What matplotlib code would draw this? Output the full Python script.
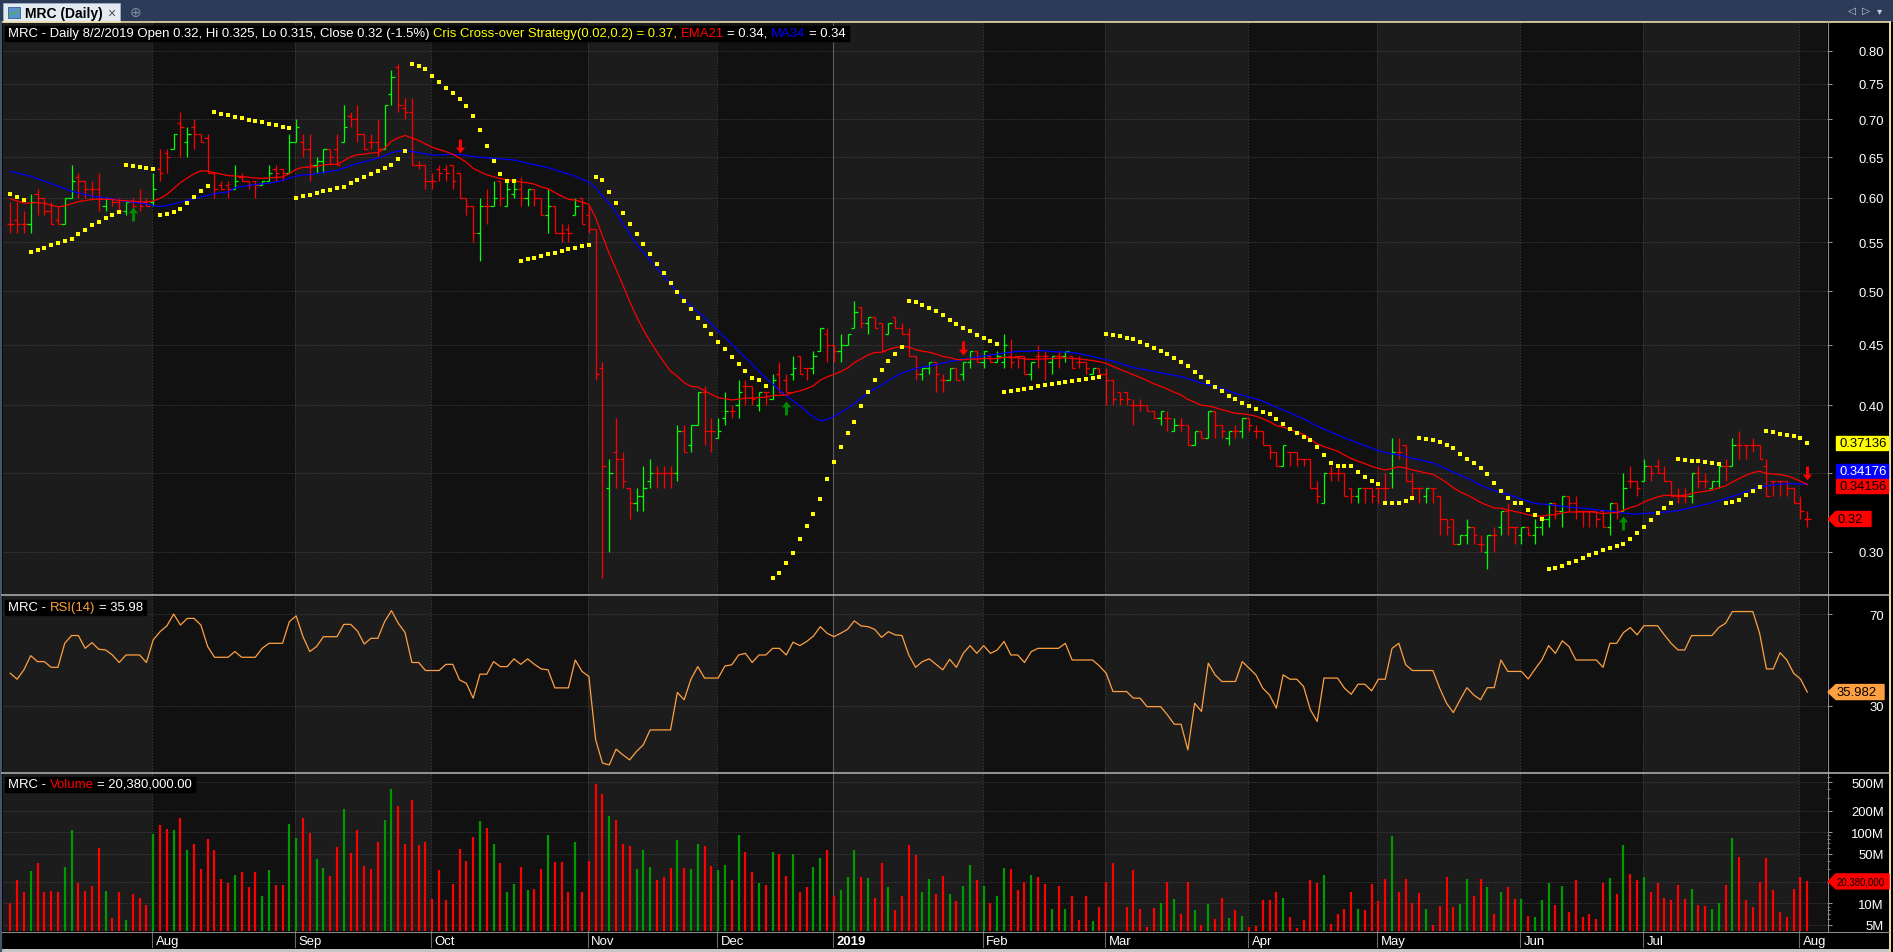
import numpy as np
import matplotlib
matplotlib.use("Agg")
from matplotlib import pyplot as plt
from matplotlib.collections import LineCollection
from matplotlib.patches import Rectangle, Polygon
from matplotlib.path import Path
from matplotlib import transforms
from matplotlib.ticker import FixedLocator, FixedFormatter, NullLocator, NullFormatter, LogLocator

plt.rcParams['font.family'] = ['Liberation Sans', 'DejaVu Sans']

W, H = 1893, 953

# daily bars MRC, Jul 2018 - 2 Aug 2019
opens = [
    .57, .575, .57, .57, .605, .60, .585, .575, .57, .60,
    .625, .62, .61, .61, .59, .60, .595, .585, .595, .595,
    .595, .595, .635, .655, .66, .695, .67, .69, .68, .675,
    .63, .615, .615, .61, .625, .62, .62, .615, .62, .635,
    .635, .63, .67, .67, .66, .64, .645, .66, .66, .67,
    .705, .70, .68, .67, .67, .66, .735, .775, .715, .71,
    .64, .64, .62, .635, .635, .64, .63, .60, .59, .56,
    .59, .59, .62, .59, .605, .61, .60, .61, .60, .58,
    .59, .56, .565, .58, .60, .58, .565, .43, .34, .365,
    .36, .34, .33, .335, .345, .35, .35, .35, .35, .38,
    .37, .385, .41, .38, .375, .39, .395, .40, .415, .415,
    .40, .41, .405, .425, .42, .425, .44, .43, .43, .445,
    .46, .45, .445, .45, .465, .485, .47, .475, .47, .46,
    .475, .465, .46, .44, .425, .43, .435, .42, .42, .43,
    .425, .435, .445, .435, .44, .435, .435, .44, .44, .44,
    .425, .44, .44, .435, .44, .44, .44, .435, .435, .425,
    .43, .425, .42, .41, .41, .40, .40, .40, .395, .39,
    .39, .38, .385, .385, .37, .38, .375, .395, .385, .375,
    .38, .38, .39, .38, .38, .37, .365, .355, .365, .365,
    .36, .36, .34, .33, .35, .35, .35, .34, .335, .34,
    .34, .34, .34, .35, .365, .37, .345, .34, .335, .34,
    .335, .32, .32, .305, .31, .315, .305, .30, .31, .315,
    .325, .315, .31, .315, .31, .315, .32, .33, .325, .335,
    .33, .325, .325, .325, .325, .315, .33, .325, .345, .345,
    .345, .355, .355, .35, .345, .335, .335, .335, .35, .345,
    .34, .345, .355, .355, .37, .37, .37, .37, .355, .345,
    .345, .345, .34, .33, .32]
highs = [
    .595, .595, .585, .605, .61, .60, .595, .59, .60, .64,
    .63, .62, .62, .63, .60, .60, .60, .595, .60, .61,
    .60, .63, .66, .66, .68, .71, .69, .70, .68, .68,
    .63, .62, .62, .64, .63, .62, .62, .62, .64, .64,
    .635, .68, .70, .68, .68, .65, .66, .66, .68, .72,
    .71, .72, .68, .68, .70, .72, .77, .78, .73, .73,
    .645, .64, .63, .64, .64, .64, .63, .60, .59, .60,
    .61, .62, .62, .62, .62, .625, .61, .61, .60, .61,
    .59, .57, .57, .60, .60, .59, .565, .435, .36, .39,
    .365, .34, .34, .355, .36, .355, .355, .355, .385, .385,
    .385, .41, .415, .39, .39, .41, .40, .42, .42, .415,
    .41, .41, .425, .435, .425, .44, .44, .43, .445, .465,
    .465, .45, .46, .46, .49, .485, .475, .475, .47, .47,
    .475, .47, .465, .44, .43, .435, .435, .425, .43, .43,
    .435, .445, .445, .445, .44, .445, .46, .455, .44, .44,
    .435, .45, .445, .44, .445, .445, .44, .44, .435, .43,
    .43, .43, .42, .41, .41, .405, .405, .40, .395, .395,
    .395, .39, .39, .385, .38, .38, .395, .395, .385, .38,
    .385, .39, .39, .385, .38, .37, .365, .37, .365, .365,
    .36, .36, .345, .35, .355, .355, .35, .34, .34, .34,
    .34, .34, .35, .375, .375, .37, .35, .34, .34, .34,
    .335, .32, .32, .31, .32, .315, .31, .31, .315, .325,
    .33, .315, .315, .315, .32, .32, .33, .33, .335, .335,
    .335, .325, .325, .325, .325, .33, .33, .35, .355, .345,
    .36, .355, .36, .355, .345, .34, .34, .35, .355, .35,
    .345, .355, .36, .375, .38, .37, .375, .37, .36, .345,
    .345, .345, .34, .335, .325]
lows = [
    .56, .56, .56, .56, .58, .58, .57, .57, .57, .60,
    .60, .60, .60, .585, .585, .59, .585, .58, .585, .585,
    .59, .59, .62, .63, .66, .65, .65, .66, .67, .63,
    .60, .61, .60, .61, .62, .61, .60, .615, .62, .62,
    .62, .63, .67, .65, .62, .63, .63, .64, .64, .67,
    .69, .67, .66, .66, .65, .66, .72, .71, .70, .64,
    .635, .61, .61, .62, .62, .61, .60, .58, .55, .53,
    .57, .59, .59, .59, .60, .59, .59, .59, .58, .56,
    .56, .55, .55, .58, .57, .56, .42, .285, .30, .34,
    .34, .32, .325, .325, .34, .34, .34, .34, .345, .365,
    .365, .385, .37, .365, .375, .385, .39, .39, .40, .40,
    .395, .40, .405, .41, .41, .42, .425, .42, .425, .445,
    .435, .435, .435, .45, .465, .465, .46, .465, .445, .46,
    .465, .46, .44, .42, .42, .425, .41, .41, .42, .42,
    .42, .43, .435, .43, .435, .435, .43, .43, .43, .425,
    .42, .43, .42, .425, .43, .435, .43, .43, .425, .425,
    .425, .40, .40, .40, .40, .385, .395, .395, .39, .385,
    .38, .38, .38, .37, .37, .375, .375, .375, .375, .37,
    .375, .375, .38, .375, .37, .36, .355, .355, .355, .355,
    .355, .34, .33, .33, .345, .345, .335, .33, .33, .33,
    .33, .33, .33, .34, .36, .345, .335, .33, .33, .33,
    .31, .31, .305, .305, .305, .305, .30, .29, .30, .31,
    .31, .305, .305, .31, .305, .31, .315, .32, .315, .325,
    .32, .315, .315, .315, .315, .31, .32, .325, .34, .335,
    .345, .345, .35, .345, .335, .33, .33, .33, .34, .34,
    .34, .34, .345, .355, .36, .36, .365, .36, .335, .335,
    .335, .335, .33, .32, .315]
closes = [
    .57, .57, .57, .595, .60, .585, .57, .57, .60, .62,
    .62, .61, .61, .60, .60, .595, .585, .595, .59, .59,
    .59, .61, .63, .65, .68, .69, .68, .68, .67, .63,
    .61, .61, .61, .62, .62, .615, .615, .62, .63, .63,
    .63, .67, .69, .66, .64, .645, .66, .65, .64, .69,
    .70, .68, .66, .67, .66, .72, .76, .72, .71, .64,
    .64, .62, .62, .63, .63, .62, .60, .59, .56, .59,
    .59, .60, .60, .61, .61, .60, .61, .60, .58, .59,
    .56, .56, .56, .59, .57, .565, .425, .355, .35, .36,
    .345, .33, .335, .34, .35, .35, .35, .35, .38, .365,
    .385, .41, .38, .38, .38, .395, .395, .41, .415, .405,
    .41, .41, .42, .41, .41, .43, .425, .43, .44, .465,
    .45, .445, .45, .46, .48, .47, .475, .465, .445, .47,
    .465, .46, .44, .425, .43, .435, .425, .42, .43, .42,
    .435, .445, .435, .445, .435, .44, .45, .435, .44, .425,
    .435, .44, .44, .44, .44, .445, .43, .435, .43, .43,
    .425, .42, .405, .405, .405, .40, .40, .395, .39, .395,
    .39, .385, .385, .37, .38, .375, .395, .385, .38, .38,
    .38, .39, .385, .38, .37, .365, .355, .37, .365, .36,
    .36, .34, .335, .35, .35, .35, .335, .335, .34, .34,
    .335, .34, .34, .365, .365, .345, .34, .34, .34, .34,
    .32, .315, .305, .31, .315, .31, .305, .31, .31, .325,
    .315, .315, .315, .31, .315, .32, .33, .325, .335, .33,
    .325, .325, .325, .32, .315, .33, .325, .34, .345, .34,
    .355, .35, .35, .345, .335, .335, .335, .35, .345, .345,
    .345, .355, .355, .37, .37, .37, .37, .36, .335, .345,
    .345, .34, .33, .325, .32]
volume_m = [
    10.0, 21, 14.5, 28.6, 37.4, 14.5, 15, 14.5, 33, 108,
    19.5, 15, 17.3, 61, 15, 6.3, 14.5, 5.8, 13.4, 12.1,
    9.4, 95, 127, 112, 108, 159, 57, 68, 30, 81,
    57, 22, 19.5, 25.4, 27.4, 16.8, 28, 12.7, 29, 18.4,
    18, 131, 84, 159, 98, 41.5, 31, 24.6, 62.5, 213,
    51, 108, 34, 30, 74, 150, 405, 230, 69, 284,
    67, 74, 11.7, 29.3, 11, 18.6, 59, 40, 86, 145,
    116, 69, 37.4, 14.7, 19, 32, 15.2, 15.7, 30, 90,
    38.6, 38.6, 14.3, 74, 14.3, 40, 476, 345, 170, 150,
    69, 65, 30, 56, 33, 21.6, 23.8, 31, 78, 31,
    30, 69, 65, 34, 29.6, 35, 21, 92, 53, 28,
    19.6, 18.4, 53, 50, 24.6, 50, 14.7, 16.8, 32, 44,
    56.5, 12.9, 15.2, 23.8, 55.5, 23.6, 23, 12.1, 37.4, 16.8,
    8.0, 12.7, 67, 48.4, 14.3, 22.3, 13.4, 24.6, 13.4, 10.7,
    17.3, 35, 21, 17.8, 10, 12.9, 31, 30, 15.2, 20.3,
    25.4, 23.8, 19, 8.3, 17.8, 8.3, 12.9, 5.8, 12.9, 5.6,
    8.8, 20, 36.5, 4.1, 8.8, 29, 8.3, 4.6, 8.5, 10,
    20.3, 11.4, 7.0, 20.3, 8.0, 4.9, 9.7, 6.0, 12.1, 6.2,
    8.0, 6.6, 4.6, 4.8, 11, 11, 14.3, 12.1, 6.4, 4.5,
    5.8, 21, 19.6, 25.4, 5.1, 7.2, 8.3, 14.3, 8.3, 8.0,
    19, 10.7, 22.3, 89, 14.7, 22.3, 10.3, 13.8, 8.3, 4.9,
    9.2, 23.8, 8.8, 9.7, 22.3, 12.9, 22.3, 16.8, 7.2, 14.7,
    16.8, 11.4, 11.7, 6.6, 6.4, 11, 19.6, 9.4, 17.8, 7.5,
    21.6, 6.4, 7.2, 6.0, 19.6, 23, 13.4, 67, 26, 21,
    23.8, 14.7, 19.6, 12.1, 11, 18.4, 11.4, 16.2, 9.4, 9.1,
    8.3, 10.3, 18.4, 84, 45.5, 11, 8.8, 20.3, 44, 15.2,
    7.5, 6.4, 15.7, 23.8, 20.38]
# RSI(14) line as drawn in the middle pane
rsi_values = [
    44.2, 41.6, 45.7, 51.9, 49.3, 49.3, 46.8, 46.8, 57.3, 60.7,
    60.7, 55.1, 57.6, 54.7, 54.4, 52.2, 48.9, 52.2, 52.2, 52.2,
    48.9, 58.8, 62.4, 64.9, 70.1, 65.3, 68.2, 68.2, 65.3, 55.9,
    51.2, 51.2, 51.2, 53.7, 51.2, 51.2, 51.2, 55.1, 57.3, 57.3,
    57.3, 66.8, 69.3, 60.2, 53.7, 55.9, 60.2, 60.2, 60.2, 65.6,
    65.6, 62.7, 57.0, 59.5, 59.5, 66.8, 71.6, 66.1, 62.0, 48.9,
    48.9, 45.4, 45.4, 45.4, 48.1, 48.1, 41.3, 39.8, 33.3, 43.8,
    43.8, 49.3, 47.1, 47.1, 50.5, 48.1, 50.5, 48.1, 46.1, 45.7,
    37.8, 37.8, 37.8, 50.0, 45.0, 42.8, 15.1, 4.9, 4.1, 11.0,
    8.5, 6.3, 10.0, 12.9, 19.4, 19.4, 19.4, 19.4, 35.8, 32.6,
    41.6, 47.1, 42.1, 42.1, 42.1, 47.4, 47.9, 52.2, 52.9, 48.9,
    52.2, 52.2, 55.1, 55.1, 52.2, 57.8, 56.3, 58.1, 60.5, 64.6,
    61.7, 60.2, 61.7, 63.4, 67.1, 64.9, 64.6, 63.4, 59.9, 62.4,
    61.0, 60.7, 52.2, 46.8, 49.3, 50.5, 48.1, 45.7, 50.3, 46.8,
    52.9, 56.3, 52.9, 56.3, 52.9, 54.4, 58.1, 52.2, 52.2, 48.9,
    53.7, 55.1, 55.1, 55.1, 55.1, 57.3, 50.0, 50.0, 50.0, 50.0,
    47.4, 44.2, 36.2, 36.2, 36.2, 33.3, 33.3, 29.6, 29.6, 29.6,
    26.0, 21.9, 21.9, 10.7, 31.1, 27.5, 48.6, 43.5, 40.6, 40.6,
    40.6, 49.3, 46.4, 43.5, 37.7, 34.7, 28.9, 43.5, 41.6, 41.6,
    38.4, 28.2, 23.1, 42.1, 42.1, 42.1, 37.7, 35.0, 39.4, 39.4,
    36.5, 41.6, 41.6, 55.1, 57.3, 47.9, 45.4, 45.4, 45.4, 45.4,
    37.7, 31.1, 27.0, 32.6, 37.9, 34.7, 32.6, 37.9, 37.9, 50.0,
    45.0, 45.0, 45.0, 41.7, 46.0, 50.0, 56.3, 52.9, 58.4, 55.9,
    50.0, 50.0, 50.0, 50.0, 46.8, 57.3, 57.3, 62.0, 64.2, 61.0,
    65.0, 65.0, 65.0, 61.0, 57.3, 54.4, 54.4, 60.7, 60.7, 60.7,
    60.7, 64.2, 66.1, 71.2, 71.2, 71.2, 71.2, 61.7, 46.1, 46.1,
    53.2, 50.0, 44.2, 41.7, 35.982]

# MA34 values at the left edge (its window starts before the first visible bar)
ma34_head = [.632, .630, .628, .626, .623, .620, .617, .614, .611, .608,
             .606, .604, .602, .601, .600, .599, .597, .596, .595, .594,
             .593, .591, .590, .591, .593, .595, .597, .599, .601, .603,
             .605, .606, .607]
ema21_start = 0.599
sar_start = (0.605, 0.54, 0.06)        # short trend at first bar: sar, extreme, acc

month_starts = [21, 42, 62, 85, 104, 121, 143, 161, 182, 201, 222, 240, 263]
month_labels = ['Aug', 'Sep', 'Oct', 'Nov', 'Dec', '2019', 'Feb', 'Mar', 'Apr', 'May', 'Jun', 'Jul', 'Aug']
buy_bars = [18, 114, 237]
sell_bars = [66, 140, 264]

# values shown in the right hand labels
sar_label = 0.37136
ma34_label = 0.34176
ema21_label = 0.34156
vol_label = 20380000

price_ticks = [0.25, 0.30, 0.35, 0.40, 0.45, 0.50, 0.55, 0.60, 0.65, 0.70, 0.75, 0.80]
price_tick_labels = ['', '0.30', '', '0.40', '0.45', '0.50', '0.55', '0.60', '0.65', '0.70', '0.75', '0.80']
vol_ticks = [5e6, 1e7, 2e7, 5e7, 1e8, 2e8, 5e8]
vol_tick_labels = ['5M', '10M', '', '50M', '100M', '200M', '500M']


O = np.array(opens); Hh = np.array(highs); L = np.array(lows); C = np.array(closes)
V = np.array(volume_m) * 1e6
R = np.array(rsi_values)
n = len(C)
x = np.arange(n)
up = C > O


def ema(c, span, start):
    a = 2.0 / (span + 1)
    out = np.zeros(len(c))
    out[0] = start
    for i in range(1, len(c)):
        out[i] = out[i-1] + a * (c[i] - out[i-1])
    return out


def sma(c, per, head):
    out = np.zeros(len(c))
    out[:len(head)] = head
    for i in range(len(head), len(c)):
        out[i] = c[i-per+1:i+1].mean()
    return out


def sar(h, l, step, amax, start):
    s, ep, af = start
    longpos = False
    out = np.zeros(len(h))
    for i in range(len(h)):
        if i > 0:
            s = s + af * (ep - s)
            if longpos:
                s = min(s, l[i-1], l[max(i-2, 0)])
            else:
                s = max(s, h[i-1], h[max(i-2, 0)])
        if longpos and l[i] < s:
            longpos = False; s = ep; ep = l[i]; af = step
        elif (not longpos) and h[i] > s:
            longpos = True; s = ep; ep = h[i]; af = step
        elif longpos and h[i] > ep:
            ep = h[i]; af = min(af + step, amax)
        elif (not longpos) and l[i] < ep:
            ep = l[i]; af = min(af + step, amax)
        out[i] = s
    return out


ema21 = ema(C, 21, ema21_start)
ma34 = sma(C, 34, ma34_head)
sar_v = sar(Hh, L, 0.02, 0.2, sar_start)

fig = plt.figure(figsize=(W / 100, H / 100), dpi=100, facecolor='black')


def px_axes(x0, y0, x1, y1, **kw):
    return fig.add_axes([x0 / W, 1 - y1 / H, (x1 - x0) / W, (y1 - y0) / H], **kw)


ax_bg = px_axes(0, 0, W, H, zorder=-5)
ax_bg.set_xlim(0, W); ax_bg.set_ylim(H, 0); ax_bg.axis('off')

ax_p = px_axes(3, 24, 1827, 595)
ax_r = px_axes(3, 597, 1827, 773)
ax_v = px_axes(3, 775, 1827, 932)

ax_top = px_axes(0, 0, W, H, zorder=10)
ax_top.set_xlim(0, W); ax_top.set_ylim(H, 0); ax_top.axis('off')

LIGHT = '#1c1c1c'
DARK = '#111111'
GRID = '#4a4a4a'
FS = 9.45

bounds = [-3] + month_starts + [n + 3]
for ax in (ax_p, ax_r, ax_v):
    ax.set_facecolor(DARK)
    for k in range(len(bounds) - 1):
        if k % 2 == 0:
            ax.axvspan(bounds[k] - 0.15, bounds[k + 1] - 0.15, color=LIGHT, lw=0, zorder=0.1)
    for m, lab in zip(month_starts, month_labels):
        if lab == '2019':
            ax.axvline(m - 0.15, color='#5e5e5e', lw=0.8, zorder=0.6)
        else:
            ax.axvline(m - 0.15, color=GRID, lw=0.72, ls=(0, (1, 2)), zorder=0.6)
    ax.set_xlim(-1.07, 266.9)
    for sp in ax.spines.values():
        sp.set_visible(False)
    ax.set_axisbelow(True)
    ax.yaxis.grid(True, color=GRID, lw=0.72, ls=(0, (1, 2)))
    ax.yaxis.tick_right()
    ax.tick_params(axis='y', which='major', direction='out', length=3.6, width=0.7,
                   color='#9a9a9a', labelcolor='white', labelsize=FS, pad=37.4)
    ax.tick_params(axis='x', which='both', bottom=False, labelbottom=False)

# ---- price pane ----
ax_p.set_yscale('log')
ax_p.set_ylim(0.2763, 0.845)
ax_p.yaxis.set_major_locator(FixedLocator(price_ticks))
ax_p.yaxis.set_major_formatter(FixedFormatter(price_tick_labels))
ax_p.yaxis.set_minor_locator(NullLocator())
ax_p.yaxis.set_minor_formatter(NullFormatter())

segs, cols = [], []
for i in range(n):
    col = '#00ff00' if up[i] else '#ff0000'
    segs += [[(i, L[i]), (i, Hh[i])], [(i - 0.48, O[i]), (i, O[i])], [(i, C[i]), (i + 0.48, C[i])]]
    cols += [col] * 3
ax_p.add_collection(LineCollection(segs, colors=cols, linewidths=0.9, zorder=3))
ax_p.plot(x, ma34, color='#0000ff', lw=0.9, zorder=4)
ax_p.plot(x, ema21, color='#ff0000', lw=0.9, zorder=4)
ax_p.scatter(x, sar_v, marker='s', s=6, color='#ffff00', linewidths=0, zorder=5)

arrow = Path([(0, 0.5), (0.33, 0.08), (0.11, 0.08), (0.11, -0.5), (-0.11, -0.5),
              (-0.11, 0.08), (-0.33, 0.08), (0, 0.5)], closed=True)
arrow_dn = Path(arrow.vertices * [1, -1], closed=True)
off_up = transforms.ScaledTranslation(0, -13 / 100, fig.dpi_scale_trans)
off_dn = transforms.ScaledTranslation(0, 12 / 100, fig.dpi_scale_trans)
ax_p.plot(np.array(buy_bars), ema21[buy_bars], ls='none', marker=arrow, ms=10,
          mfc='#008a00', mec='none', transform=ax_p.transData + off_up, zorder=6)
ax_p.plot(np.array(sell_bars), ema21[sell_bars], ls='none', marker=arrow_dn, ms=10,
          mfc='#ff0000', mec='none', transform=ax_p.transData + off_dn, zorder=6)

# ---- RSI pane ----
ax_r.set_ylim(1, 78)
ax_r.yaxis.set_major_locator(FixedLocator([30, 70]))
ax_r.yaxis.set_major_formatter(FixedFormatter(['30', '70']))
ax_r.plot(np.arange(len(R)), R, color='#ffa040', lw=0.9, zorder=3)

# ---- volume pane ----
ax_v.set_yscale('log')
ax_v.set_ylim(4.1e6, 6.57e8)
ax_v.yaxis.set_major_locator(FixedLocator(vol_ticks))
ax_v.yaxis.set_major_formatter(FixedFormatter(vol_tick_labels))
ax_v.yaxis.set_minor_locator(LogLocator(base=10, subs=(3, 4, 6, 7, 8, 9)))
ax_v.yaxis.set_minor_formatter(NullFormatter())
ax_v.tick_params(axis='y', which='minor', direction='out', length=2, width=0.6, color='#9a9a9a')
vcols = np.where(up, '#009a00', '#ff0000')
ax_v.vlines(x, 1e6, V, colors=vcols, lw=1.6, zorder=3)

for ax in (ax_p, ax_r, ax_v):
    for t in ax.get_yticklabels():
        t.set_horizontalalignment('right')

# month labels under the volume pane
for m, lab in zip(month_starts, month_labels):
    ax_v.annotate(lab, xy=(m - 0.15, 0), xycoords=('data', 'axes fraction'),
                  xytext=(2.5, -7.5), textcoords='offset points', ha='left', va='center',
                  color='white', fontsize=FS, fontweight='bold' if lab == '2019' else 'normal',
                  annotation_clip=False)
    ax_v.plot([m - 0.15, m - 0.15], [0, -0.1], transform=transforms.blended_transform_factory(
        ax_v.transData, ax_v.transAxes), color='#6a6a6a', lw=0.8, clip_on=False)

# ---- window frame ----
ax_bg.add_patch(Rectangle((0, 0), W, 22.5, color='#2b3b58', lw=0))
ax_bg.add_patch(Rectangle((3, 4), 117, 19, facecolor='#e4eaf2', edgecolor='#9fb0c8', lw=0.6))
ax_bg.add_patch(Rectangle((8, 8), 12, 11, facecolor='#5d8fcc', edgecolor='#2f5f9a', lw=0.6))
ax_bg.plot([9, 12, 15, 19], [17, 13, 15, 10], color='#3fbf3f', lw=0.8)
ax_top.text(25, 14, 'MRC (Daily)', color='black', fontsize=10, fontweight='bold', va='center')
ax_top.text(107, 14, '\u00d7', color='#505050', fontsize=10, va='center')
ax_top.text(130, 13, '\u2295', color='#7f8da6', fontsize=10, va='center')
for xi, ch in zip([1852, 1866, 1880], ['\u25c1', '\u25b7', '\u25be']):
    ax_top.text(xi, 11, ch, color='#c4ccd8', fontsize=7.5, va='center', ha='center')
ax_top.plot([0, 1890], [22.8, 22.8], color='#efdfa6', lw=1.2)
ax_top.plot([1889.5, 1889.5], [22.5, 953], color='#efdfa6', lw=1.4)
ax_top.plot([1.2, 1.2], [22.5, 953], color='#46536b', lw=1.6)
ax_top.plot([1827.5, 1827.5], [23, 933], color='#8a8a8a', lw=0.8)
for yy in (596, 774):
    ax_top.plot([2, 1889], [yy, yy], color='#bcbcbc', lw=1.1)
ax_top.plot([2, 1889], [932.8, 932.8], color='#8a8a8a', lw=0.8)
ax_top.add_patch(Rectangle((0, 950), 1889, 3, color='#c6c6c6', lw=0))

renderer = fig.canvas.get_renderer()
SPACE = 3.6


def header(x0, y, pieces):
    xx = x0
    for txt, col in pieces:
        t = ax_top.text(xx, y, txt, color=col, fontsize=FS, va='center', ha='left', zorder=5)
        xx += t.get_window_extent(renderer).width + SPACE
    ax_top.add_patch(Rectangle((x0 - 3, y - 7.5), xx - x0 - SPACE + 6, 15, color='black', zorder=4))


chg = (C[-1] / C[-2] - 1) * 100
header(8, 34, [
    ('MRC - Daily 8/2/2019 Open %g, Hi %g, Lo %g, Close %g (%.1f%%)' % (O[-1], Hh[-1], L[-1], C[-1], chg), 'white'),
    ('Cris Cross-over Strategy(0.02,0.2) = %.2f,' % sar_label, '#ffff00'),
    ('EMA21', '#ff0000'), ('= %.2f,' % ema21_label, 'white'),
    ('MA34', '#0000ff'), ('= %.2f' % ma34_label, 'white')])
header(8, 608, [('MRC -', 'white'), ('RSI(14)', '#ffa040'), ('= %.2f' % R[-1], 'white')])
header(8, 785, [('MRC -', 'white'), ('Volume', '#ff0000'), ('= {:,.2f}'.format(vol_label), 'white')])


def ypix(ax, val):
    yd = ax.transData.transform((0, val))[1]
    return ax_top.transData.inverted().transform((0, yd))[1]


def box(yc, text, face, tcol, x0=1836, x1=1888):
    ax_top.add_patch(Rectangle((x0, yc - 7), x1 - x0, 14, color=face, zorder=6))
    ax_top.text((x0 + x1) / 2 + 1, yc, text, color=tcol, fontsize=FS, ha='center', va='center', zorder=7)


def tagbox(yc, text, face, x1, size=FS):
    ax_top.add_patch(Polygon([(1828, yc), (1836, yc - 7.5), (x1, yc - 7.5), (x1, yc + 7.5), (1836, yc + 7.5)],
                             closed=True, color=face, zorder=6))
    ax_top.text(1837, yc, text, color='black', fontsize=size, ha='left', va='center', zorder=7)


y_ema = ypix(ax_p, ema21_label)
y_ma = min(ypix(ax_p, ma34_label), y_ema - 15)
box(ypix(ax_p, sar_label), '%.5f' % sar_label, '#ffff00', 'black')
box(y_ma, '%.5f' % ma34_label, '#0000ff', 'white')
box(y_ema, '%.5f' % ema21_label, '#ff0000', 'black')
tagbox(ypix(ax_p, C[-1]), '%g' % C[-1], '#ff0000', 1871)
tagbox(ypix(ax_r, R[-1]), '%.3f' % R[-1], '#ffa040', 1884)
tagbox(ypix(ax_v, vol_label), '{:,.0f}'.format(vol_label), '#ff0000', 1889, size=6.9)

fig.savefig('out.png', dpi=100, facecolor='black')
